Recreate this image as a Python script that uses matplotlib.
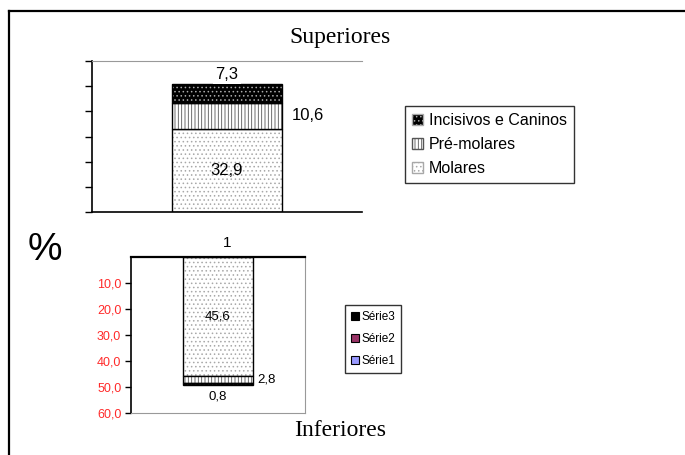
import matplotlib.pyplot as plt
from matplotlib.patches import Patch
from matplotlib.lines import Line2D

# data
category = ["1"]
sup_labels = ["Molares", "Pré-molares", "Incisivos e Caninos"]
sup_values = [32.9, 10.6, 7.3]
inf_labels = ["Série1", "Série2", "Série3"]
inf_values = [45.6, 2.8, 0.8]
inf_ticks = [10, 20, 30, 40, 50, 60]

plt.rcParams['hatch.linewidth'] = 0.6

fig = plt.figure(figsize=(6.85, 4.55), dpi=100)

# outer frame (partially cut off like the reference)
fig.add_artist(Line2D([9 / 685, 9 / 685], [0, 1 - 11 / 455], color="black", lw=1.6))
fig.add_artist(Line2D([9 / 685, 1], [1 - 11 / 455, 1 - 11 / 455], color="black", lw=1.6))

# segment styles: (face, hatch colour, hatch)
styles = [("white", "#a8a8a8", "...."), ("white", "#555555", "|||||"), ("black", "#aaaaaa", "....")]


def stacked(ax, values, width):
    bottom = 0
    for (face, hc, hatch), v in zip(styles, values):
        ax.bar(0, v, width, bottom=bottom, color=face, edgecolor=hc, hatch=hatch, lw=0)
        ax.bar(0, v, width, bottom=bottom, fill=False, edgecolor="black", lw=1.0)
        bottom += v


# top chart: Superiores
ax1 = fig.add_axes([92 / 685, 1 - 212 / 455, 270 / 685, 151 / 455])
stacked(ax1, sup_values, 0.41)
ax1.set_xlim(-0.5, 0.5)
ax1.set_ylim(0, 60)
ax1.set_yticks(range(0, 61, 10))
ax1.set_yticklabels([])
ax1.tick_params(axis="y", length=5, width=1, direction="out")
ax1.set_xticks([0])
ax1.set_xticklabels(category, fontsize=11, family="Liberation Sans")
ax1.tick_params(axis="x", length=0, pad=17)
ax1.spines["right"].set_visible(False)
ax1.spines["top"].set_color("#999999")
ax1.spines["left"].set_linewidth(1.2)
ax1.spines["bottom"].set_linewidth(1.2)

tx = dict(family="Liberation Sans", fontsize=12, ha="center", va="center")
ax1.text(0, sup_values[0] / 2, "32,9", **tx)
ax1.text(0, sum(sup_values) + 4.0, "7,3", bbox=dict(fc="white", ec="none", pad=2), **tx)
ax1.text(0.30, sup_values[0] + sup_values[1] / 2, "10,6", **tx)

sup_handles = [Patch(facecolor=f, edgecolor=hc, hatch=h) for f, hc, h in styles][::-1]
leg1 = fig.legend(sup_handles, sup_labels[::-1], loc="upper left",
                  bbox_to_anchor=(405 / 685, 1 - 106 / 455), frameon=True, fancybox=False,
                  prop=dict(family="Liberation Sans", size=11.5), handlelength=0.7, handleheight=0.7,
                  handletextpad=0.35, labelspacing=0.55, borderpad=0.45, borderaxespad=0)
leg1.get_frame().set_edgecolor("black")
leg1.get_frame().set_linewidth(1.0)

# bottom chart: Inferiores (inverted)
ax2 = fig.add_axes([131 / 685, 1 - 413 / 455, 174 / 685, 156 / 455])
stacked(ax2, inf_values, 0.40)
ax2.set_xlim(-0.5, 0.5)
ax2.set_ylim(60, 0)
ax2.set_xticks([])
ax2.set_yticks(inf_ticks)
ax2.set_yticklabels([f"{t:.1f}".replace(".", ",") for t in inf_ticks],
                    color="#ff2a2a", fontsize=9, family="Liberation Sans")
ax2.tick_params(axis="y", length=4, width=1, direction="out", pad=3)
ax2.spines["top"].set_linewidth(1.6)
ax2.spines["left"].set_linewidth(1.2)
ax2.spines["right"].set_color("#999999")
ax2.spines["bottom"].set_color("#999999")

tx2 = dict(family="Liberation Sans", fontsize=9.5, ha="center", va="center")
ax2.text(0, 23, "45,6", **tx2)
ax2.text(0.28, inf_values[0] + inf_values[1] / 2, "2,8", **tx2)
ax2.text(0, sum(inf_values) + 4.5, "0,8", **tx2)

inf_colors = ["#9999ff", "#993366", "black"]
inf_handles = [Patch(facecolor=c, edgecolor="black", lw=0.8) for c in inf_colors][::-1]
leg2 = fig.legend(inf_handles, inf_labels[::-1], loc="upper left",
                  bbox_to_anchor=(345 / 685, 1 - 305 / 455), frameon=True, fancybox=False,
                  prop=dict(family="Liberation Sans", size=8.5), handlelength=0.7, handleheight=0.7,
                  handletextpad=0.2, labelspacing=0.85, borderpad=0.5, borderaxespad=0)
leg2.get_frame().set_edgecolor("black")
leg2.get_frame().set_linewidth(1.0)

# titles
fig.text(340 / 685, 1 - 37 / 455, "Superiores", family="Liberation Serif", fontsize=17,
         ha="center", va="center")
fig.text(340 / 685, 1 - 431 / 455, "Inferiores", family="Liberation Serif", fontsize=17,
         ha="center", va="center")
fig.text(45 / 685, 1 - 250 / 455, "%", family="Liberation Sans", fontsize=28,
         ha="center", va="center")

fig.savefig("out.png", dpi=100)
